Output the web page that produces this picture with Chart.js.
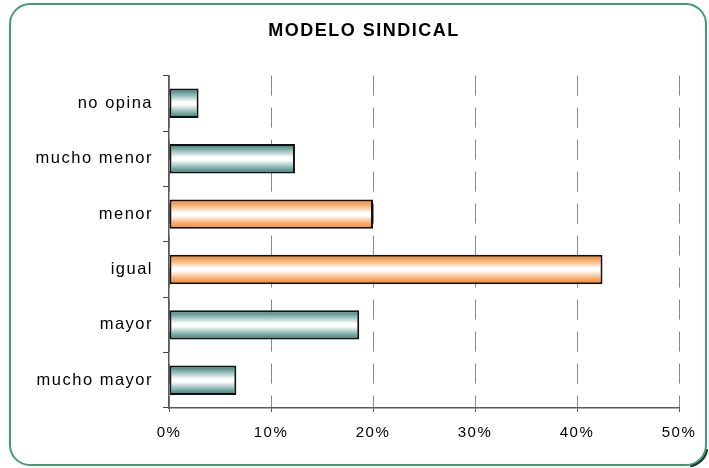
<!DOCTYPE html>
<html>
<head>
<meta charset="utf-8">
<script src="https://cdn.jsdelivr.net/npm/chart.js@4/dist/chart.umd.min.js"></script>
<style>
html,body{margin:0;padding:0;background:#fff;}
canvas{display:block;}
</style>
</head>
<body>
<canvas id="c" width="709" height="468"></canvas>
<script>
const title = 'MODELO SINDICAL';
const categories = ['no opina', 'mucho menor', 'menor', 'igual', 'mayor', 'mucho mayor'];
const values = [2.9, 12.35, 20.0, 42.5, 18.65, 6.6];
const highlighted = ['menor', 'igual'];
const xTicks = [0, 10, 20, 30, 40, 50];

const FONT = "'Liberation Sans', Arial, sans-serif";
const BAR_PCT = 0.53;

function barFill(c) {
  const chart = c.chart;
  const ys = chart.scales.y;
  const orange = highlighted.includes(categories[c.dataIndex]);
  const edge = orange ? '#f4801f' : '#34766f';
  const mid = orange ? '#fbb47c' : '#8fb9b5';
  if (!ys || c.dataIndex === undefined) return edge;
  const yc = ys.getPixelForValue(c.dataIndex);
  const h = ys.height / categories.length * BAR_PCT;
  if (!isFinite(yc) || !isFinite(h) || h <= 0) return edge;
  const g = chart.ctx.createLinearGradient(0, yc - h / 2, 0, yc + h / 2);
  g.addColorStop(0, edge);
  g.addColorStop(0.22, mid);
  g.addColorStop(0.45, '#ffffff');
  g.addColorStop(0.55, '#ffffff');
  g.addColorStop(0.78, mid);
  g.addColorStop(1, edge);
  return g;
}

const frame = {
  id: 'frame',
  afterLayout(chart) {
    if (chart.titleBlock) chart.titleBlock.left = 49;
  },
  beforeDraw(chart) {
    const ctx = chart.ctx;
    ctx.save();
    ctx.fillStyle = '#ffffff';
    ctx.beginPath();
    ctx.roundRect(10, 4, 696, 461, 20);
    ctx.fill();
    ctx.strokeStyle = '#1d3326';
    ctx.lineWidth = 2.5;
    ctx.beginPath();
    ctx.arc(706 - 20 + 1.2, 465 - 20 + 1.2, 20, 0.15, Math.PI / 2 - 0.15);
    ctx.stroke();
    ctx.strokeStyle = '#3e9e6e';
    ctx.lineWidth = 2;
    ctx.beginPath();
    ctx.roundRect(10, 4, 696, 461, 20);
    ctx.stroke();
    ctx.restore();
    ctx.letterSpacing = '1.5px';
  }
};

const chart = new Chart(document.getElementById('c'), {
  type: 'bar',
  data: {
    labels: categories,
    datasets: [{
      data: values,
      backgroundColor: barFill,
      borderColor: '#111',
      borderWidth: 2,
      borderSkipped: false,
      barPercentage: BAR_PCT,
      categoryPercentage: 1
    }]
  },
  plugins: [frame],
  options: {
    indexAxis: 'y',
    responsive: false,
    animation: false,
    layout: { padding: { left: 0, right: 30, top: 20, bottom: 0 } },
    plugins: {
      legend: { display: false },
      tooltip: { enabled: false },
      title: {
        display: true,
        text: title,
        color: '#000',
        font: { family: FONT, size: 18, weight: 'bold' },
        padding: { top: 0, bottom: 34 }
      }
    },
    scales: {
      x: {
        min: 0, max: 50,
        afterBuildTicks(s) { s.ticks = xTicks.map(v => ({ value: v })); },
        afterFit(s) { s.height = 60; },
        border: { display: true, color: '#5a5a5a', width: 1.5, dash: [20, 12] },
        grid: {
          color: '#8a8a8a', lineWidth: 1,
          tickColor: '#5a5a5a', tickLength: 4, tickBorderDash: [],
          drawTicks: true
        },
        ticks: {
          color: '#000',
          padding: 12,
          font: { family: FONT, size: 15 },
          callback: v => v + '%'
        }
      },
      y: {
        afterFit(s) { s.width = 169; },
        border: { display: true, color: '#5a5a5a', width: 1.5 },
        grid: {
          drawOnChartArea: false, drawTicks: true, offset: true,
          tickLength: 6, tickColor: '#444'
        },
        ticks: {
          color: '#000',
          padding: 10,
          font: { family: FONT, size: 16.5 }
        }
      }
    }
  }
});
chart.update();
</script>
</body>
</html>
